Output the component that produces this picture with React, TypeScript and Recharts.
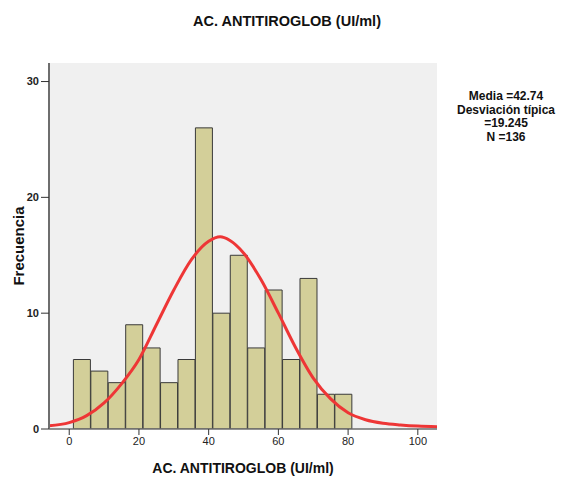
import React from 'react';
import { ComposedChart, Bar, Line, XAxis, YAxis, CartesianGrid } from 'recharts';

// Histogram bins (centre of each 5-unit bin) and their frequencies
const binCenters = [3.7, 8.7, 13.7, 18.7, 23.7, 28.7, 33.7, 38.7, 43.7, 48.7, 53.7, 58.7, 63.7, 68.7, 73.7, 78.7];
const frequencies = [6, 5, 4, 9, 7, 4, 6, 26, 10, 15, 7, 12, 6, 13, 3, 3];

// Normal curve
const curveX = [-5.8, 0, 5, 10, 15, 20, 25, 30, 35, 40, 43.3, 46, 50, 55, 60, 65, 70, 75, 80, 85, 90, 95, 100, 105.5];
const curveY = [0.28, 0.55, 1.15, 2.25, 3.9, 6.0, 9.0, 12.0, 14.6, 16.2, 16.6, 16.3, 15.2, 12.9, 10.0, 7.0, 4.4, 2.6, 1.4, 0.8, 0.5, 0.35, 0.25, 0.2];

const xTicks = [0, 20, 40, 60, 80, 100];
const yTicks = [0, 10, 20, 30];
const xDomain = [-5.8, 105.5];
const yDomain = [0, 31.6];

const chartTitle = 'AC. ANTITIROGLOB (UI/ml)';
const xLabel = 'AC. ANTITIROGLOB (UI/ml)';
const yLabel = 'Frecuencia';
const statLines = ['Media =42.74', 'Desviación típica', '=19.245', 'N =136'];

const barData = binCenters.map((c, i) => ({ center: c, freq: frequencies[i] }));
const curveData = curveX.map((x, i) => ({ x, y: curveY[i] }));

const FONT = '"Liberation Sans", Arial, sans-serif';
const BORDER = '#6e6e6e';

export default function App() {
  return (
    <div style={{ position: 'absolute', left: 0, top: 0, width: 573, height: 479, background: '#fff', fontFamily: FONT }}>
      <ComposedChart
        width={573}
        height={479}
        data={barData}
        margin={{ top: 63, right: 136, bottom: 0, left: 0 }}
        barCategoryGap={0}
        barGap={0}
      >
        <CartesianGrid xAxisId="main" fill="#f0f0f0" horizontal={false} vertical={false} stroke="none" />
        <XAxis
          xAxisId="main"
          type="number"
          dataKey="x"
          domain={xDomain}
          allowDataOverflow
          ticks={xTicks}
          height={50}
          tickSize={6}
          tickLine={{ stroke: '#333', strokeWidth: 1 }}
          axisLine={{ stroke: BORDER, strokeWidth: 1.5 }}
          tick={{ fontSize: 11, fill: '#222', fontFamily: FONT }}
        />
        <XAxis xAxisId="bars" type="number" dataKey="center" domain={xDomain} allowDataOverflow hide height={0} />
        <XAxis
          xAxisId="top"
          orientation="top"
          type="number"
          domain={xDomain}
          allowDataOverflow
          height={0}
          tick={false}
          tickLine={false}
          axisLine={{ stroke: BORDER, strokeWidth: 1.2 }}
        />
        <YAxis
          type="number"
          domain={yDomain}
          allowDataOverflow
          ticks={yTicks}
          width={49}
          tickSize={8}
          tickLine={{ stroke: '#333', strokeWidth: 1 }}
          axisLine={{ stroke: BORDER, strokeWidth: 2 }}
          tick={{ fontSize: 11, fill: '#222', fontWeight: 'bold', fontFamily: FONT }}
        />
        <YAxis
          yAxisId="right"
          orientation="right"
          type="number"
          domain={yDomain}
          width={0}
          tick={false}
          tickLine={false}
          axisLine={{ stroke: BORDER, strokeWidth: 1.2 }}
        />
        <Bar
          dataKey="freq"
          xAxisId="bars"
          fill="#d3cf99"
          stroke="#3a3a3a"
          strokeWidth={1}
          isAnimationActive={false}
        />
        <Line
          data={curveData}
          xAxisId="main"
          dataKey="y"
          type="monotone"
          stroke="#ee3636"
          strokeWidth={3}
          dot={false}
          activeDot={false}
          isAnimationActive={false}
        />
      </ComposedChart>

      <div style={{ position: 'absolute', left: 187, width: 200, top: 12, textAlign: 'center', fontSize: 14.5, fontWeight: 'bold', color: '#111', lineHeight: '18px', whiteSpace: 'nowrap' }}>
        {chartTitle}
      </div>
      <div style={{ position: 'absolute', left: 143, width: 200, top: 459, textAlign: 'center', fontSize: 14, fontWeight: 'bold', color: '#111', lineHeight: '18px', whiteSpace: 'nowrap' }}>
        {xLabel}
      </div>
      <div style={{ position: 'absolute', left: 19 - 60, top: 246 - 9, width: 120, textAlign: 'center', fontSize: 15, fontWeight: 'bold', color: '#111', lineHeight: '18px', transform: 'rotate(-90deg)', whiteSpace: 'nowrap' }}>
        {yLabel}
      </div>
      <div style={{ position: 'absolute', left: 446, width: 120, top: 90, textAlign: 'center', fontSize: 12, fontWeight: 'bold', color: '#111', lineHeight: '13.5px' }}>
        {statLines.map((s) => (
          <div key={s} style={{ whiteSpace: 'nowrap' }}>{s}</div>
        ))}
      </div>
    </div>
  );
}
